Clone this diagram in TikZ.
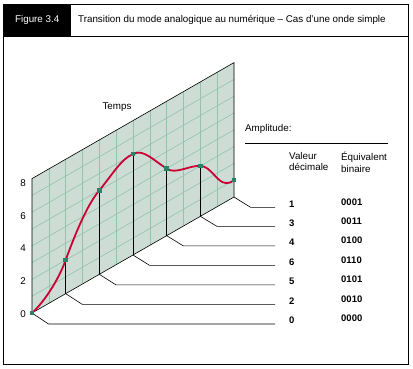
\documentclass[tikz,border=0pt]{standalone}
\usepackage{fontspec}
\setmainfont{Liberation Sans}
\begin{document}
\begin{tikzpicture}[x=1pt,y=-1pt,
  txt/.style={font=\fontsize{9.8}{11.5}\selectfont, inner sep=0pt},
  bnum/.style={font=\fontsize{9.5}{11}\selectfont\bfseries, inner sep=0pt, anchor=west},
  planefill/.style={fill=planeC, draw=none},
  gridl/.style={draw=gridC, line width=0.6pt},
  edge/.style={draw=black, line width=0.6pt},
  curve/.style={draw=curveC, line width=1.8pt},
  sampmark/.style={fill=markC, draw=none, minimum size=4.5pt, inner sep=0pt, rectangle},
  lead/.style={draw=black, line width=0.6pt},
  frame/.style={draw=black, line width=0.9pt}]
\definecolor{planeC}{HTML}{CDDDD6}
\definecolor{gridC}{HTML}{92C3AB}
\definecolor{curveC}{HTML}{CC0033}
\definecolor{markC}{HTML}{2E8068}
\useasboundingbox (0,0) rectangle (413,369);
\fill[white] (0,0) rectangle (413,369);
% frame
\draw[frame] (3.5,4) rectangle (408,364);
\draw[frame] (3.5,36) -- (408,36);
\node[fill=black, minimum width=67pt, minimum height=32pt, anchor=north west, inner sep=0pt] (figbox) at (3.5,4) {};
\node[txt, text=white, anchor=center] (figlbl) at (figbox.center) {Figure 3.4};
\node[txt, anchor=west] (title) at (78,19.5) {Transition du mode analogique au numérique – Cas d’une onde simple};
% plane
\coordinate (BL) at (32,313);
\coordinate (TL) at (32,178.6);
\coordinate (TR) at (234,62.6);
\coordinate (BR) at (234,197);
\path[planefill] (BL) -- (TL) -- (TR) -- (BR) -- cycle;
\foreach \k in {1,...,11} {
  \draw[gridl] (32+16.8333*\k, 313-9.6667*\k) -- (32+16.8333*\k, 178.6-9.6667*\k);
}
\foreach \v in {1,...,7} {
  \draw[gridl] (32, 313-16.8*\v) -- (234, 197-16.8*\v);
}
\draw[edge] (BR) -- (BL) -- (TL) -- (TR) -- (BR);
% samples
\coordinate (p0) at (32,313);
\coordinate (p1) at (65.67,260.07);
\coordinate (p2) at (99.33,190.33);
\coordinate (p3) at (133,154.2);
\coordinate (p4) at (166.67,168.47);
\coordinate (p5) at (200.33,165.93);
\coordinate (p6) at (234,180.2);
\coordinate (b0) at (32,313);
\coordinate (b1) at (65.67,293.67);
\coordinate (b2) at (99.33,274.33);
\coordinate (b3) at (133,255);
\coordinate (b4) at (166.67,235.67);
\coordinate (b5) at (200.33,216.33);
\coordinate (b6) at (234,197);
\foreach \i in {1,...,5} { \draw[edge] (p\i) -- (b\i); }
% leads
\foreach \i/\cx/\ly in {0/48.5/324,1/82.17/304.3,2/115.83/284.8,3/149.5/265.3,4/183.17/245.8,5/216.83/226.3,6/250.5/207.3} {
  \coordinate (c\i) at (\cx,\ly);
  \coordinate (e\i) at (275,\ly);
  \draw[lead] (b\i) -- (c\i) -- (e\i);
}
% curve
\draw[curve] (p0) .. controls (44,302) and (58,281) .. (p1)
  .. controls (73,240) and (86,206) .. (p2)
  .. controls (112,175) and (122,158) .. (p3)
  .. controls (143,148) and (154,161) .. (p4)
  .. controls (175,175) and (190,165) .. (p5)
  .. controls (211,166) and (217,183) .. (226,183)
  .. controls (230,183) and (232,182) .. (p6);
\foreach \i in {0,...,6} { \node[sampmark] (m\i) at (p\i) {}; }
% labels
\node[txt] (temps) at (117,107.5) {Temps};
\node[txt] (a0) at (23,314) {0};
\node[txt] (a2) at (23,281) {2};
\node[txt] (a4) at (23,248) {4};
\node[txt] (a6) at (23,216) {6};
\node[txt] (a8) at (23,183) {8};
\node[txt, anchor=west] (amp) at (245,129) {Amplitude:};
\draw[edge] (245,143.5) -- (388,143.5);
\node[txt, anchor=north west, align=left] (valh) at (289,152) {Valeur\\décimale};
\node[txt, anchor=north west, align=left] (binh) at (341,152) {Équivalent\\binaire};
\foreach \d/\b/\ly in {1/0001/207.3,3/0011/226.3,4/0100/245.8,6/0110/265.3,5/0101/284.8,2/0010/304.3,0/0000/324} {
  \node[bnum] at (289,\ly-3.5) {\d};
  \node[bnum] at (341,\ly-5.5) {\b};
}
\end{tikzpicture}
\end{document}
